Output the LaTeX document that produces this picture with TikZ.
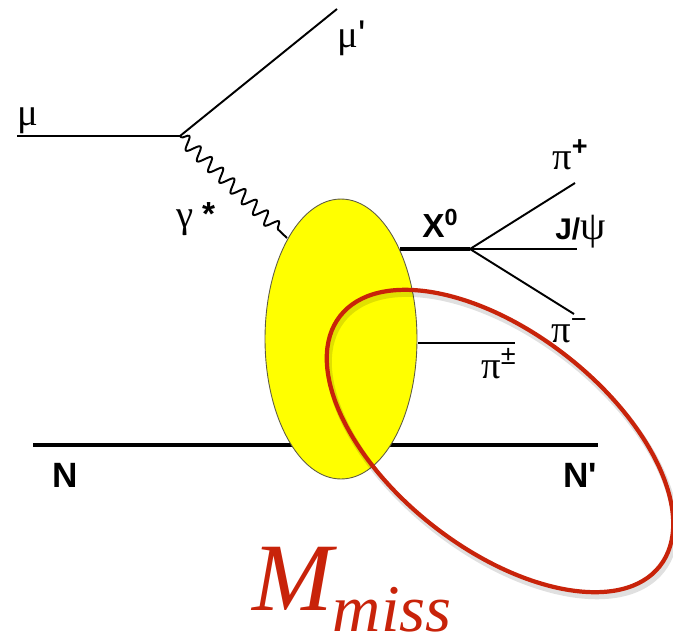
\documentclass[tikz,border=0pt]{standalone}
\usepackage{fontspec}
\setmainfont{Liberation Sans}
\newfontfamily\grk{Liberation Serif}
\usetikzlibrary{decorations.pathmorphing,shapes.geometric}
\definecolor{BlobYellow}{HTML}{FFFF00}
\definecolor{MissRed}{HTML}{C8230A}

\begin{document}
\begin{tikzpicture}[
      x=0.02cm, y=-0.02cm,
      lep/.style={line width=1.1pt},
      had/.style={line width=2.3pt},
      phot/.style={line width=1.1pt, decorate,
                   decoration={snake, segment length=0.31cm,
                               amplitude=0.13cm, pre length=1pt,
                               post length=5pt}},
      blob/.style={ellipse, draw=black!60!yellow!70!black, line width=0.5pt,
                   fill=BlobYellow, minimum width=3.04cm,
                   minimum height=5.6cm, inner sep=0pt},
      loop/.style={ellipse, draw=MissRed, line width=2.4pt,
                   minimum width=8.12cm, minimum height=4.32cm,
                   inner sep=0pt, rotate=-38},
      lbl/.style={anchor=base west, inner sep=0pt, font=\bfseries},
      glbl/.style={anchor=base west, inner sep=0pt,
                   font=\fontsize{22}{22}\selectfont\grk},
    ]
      \useasboundingbox (0,0) rectangle (673,643);

      % vertices and line ends
      \coordinate (muin)  at (17,136);
      \coordinate (vtx)   at (180,136);
      \coordinate (muout) at (337,9);
      \coordinate (gend)  at (287,238);
      \coordinate (Nin)   at (33,445);
      \coordinate (Nout)  at (598,445);
      \coordinate (xin)   at (400,249);
      \coordinate (xvtx)  at (470,249);
      \coordinate (pip)   at (575,183);
      \coordinate (jpsi)  at (577,249);
      \coordinate (pim)   at (574,314);
      \coordinate (pmin)  at (418,343);
      \coordinate (pmout) at (515,343);

      \draw[lep]  (muin) -- (vtx) -- (muout);
      \draw[phot] (vtx) -- (gend);
      \draw[had]  (Nin) -- (Nout);
      \draw[had]  (xin) -- (xvtx);
      \draw[lep]  (xvtx) -- (pip);
      \draw[lep]  (xvtx) -- (jpsi);
      \draw[lep]  (xvtx) -- (pim);
      \draw[lep]  (pmin) -- (pmout);

      \node[blob] (hadr) at (341,339) {};

      \node[loop, draw=black, opacity=0.12, line width=3.5pt]
            (missshadow) at (502,445) {};
      \node[loop] (missloop) at (500,441) {};

      \node[glbl] (lmu)  at (17,125)  {μ};
      \node[glbl] (lmup) at (337,47)  {μ{\rmfamily\textquotesingle}};
      \node[glbl] (lgam) at (176,227)
            {γ\hspace{5pt}\raisebox{1pt}{\rmfamily\bfseries\fontsize{19}{19}\selectfont *}};
      \node[lbl, font=\fontsize{19}{19}\selectfont\bfseries]
            (lx) at (422,237) {X\textsuperscript{0}};
      \node[glbl] (lpip) at (552,169) {π\textsuperscript{\rmfamily\bfseries +}};
      \node[lbl, font=\fontsize{17}{17}\selectfont\bfseries]
            (ljpsi) at (555,239) {J/{\grk\mdseries\fontsize{23}{23}\selectfont ψ}};
      \node[glbl] (lpim) at (551,342) {π\textsuperscript{\rmfamily −}};
      \node[glbl] (lpipm) at (481,378) {π\textsuperscript{\rmfamily ±}};
      \node[lbl, font=\fontsize{20}{20}\selectfont\bfseries]
            (lN) at (52,487) {N};
      \node[lbl, font=\fontsize{20}{20}\selectfont\bfseries]
            (lNp) at (563,487) {N\textquotesingle};

      \node[anchor=base west, inner sep=0pt, text=MissRed,
            font=\fontsize{55}{55}\selectfont\grk\itshape]
            (lmiss) at (252,610)
            {M\raisebox{-12pt}[0pt][0pt]{\fontsize{38}{38}\selectfont miss}};
    \end{tikzpicture}
\end{document}
